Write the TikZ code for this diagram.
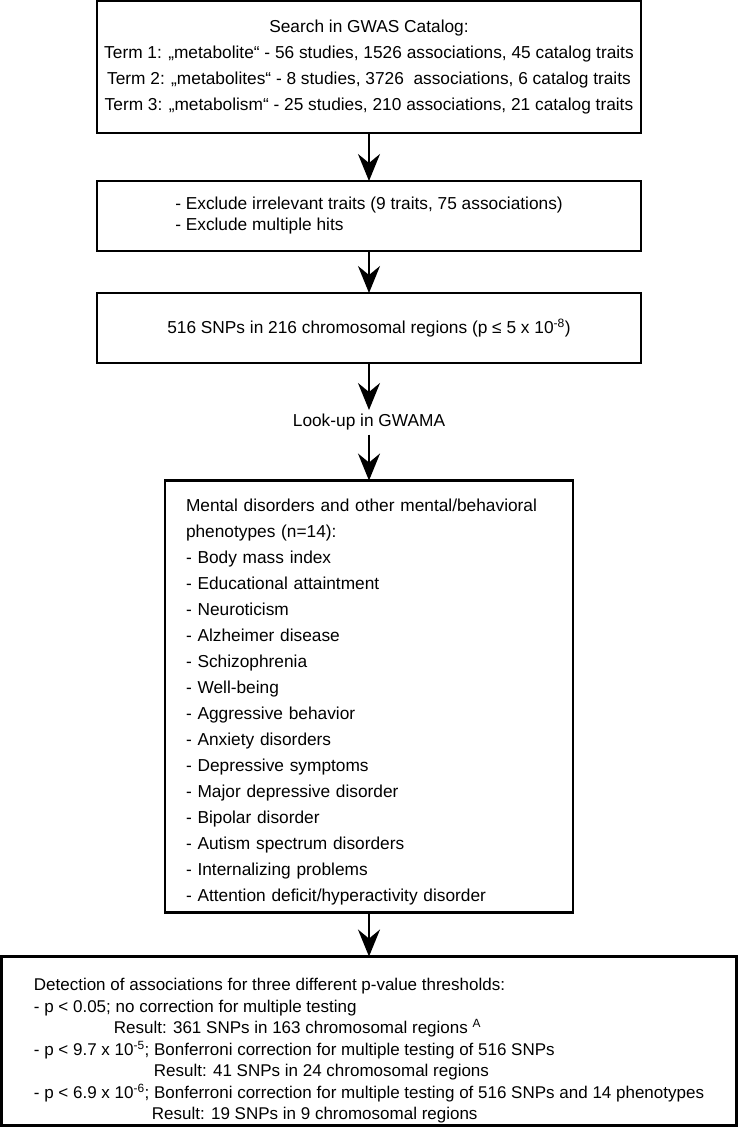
\documentclass[tikz,border=0pt]{standalone}
\usepackage{fontspec}
\setmainfont{Liberation Sans}
\usetikzlibrary{positioning,arrows.meta}

\begin{document}
\begin{tikzpicture}[stage/.style={rectangle, draw, line width=2.8pt, inner sep=0pt, outer sep=0pt, font=\fontsize{17.3}{26}\selectfont},
	flow/.style={line width=2.2pt, -{Stealth[length=27pt, width=22pt, inset=9pt]}}]

\useasboundingbox (0,0) rectangle (741pt,-1128pt);

%--figura relativa alla ricerca nel GWAS Catalog
\node [stage, minimum width=544pt, minimum height=132pt, align=center] (search) at (369pt,-67pt)
	{Search in GWAS Catalog:\\
	 Term 1: „metabolite“ - 56 studies, 1526 associations, 45 catalog traits\\
	 Term 2: „metabolites“ - 8 studies, 3726~ associations, 6 catalog traits\\
	 Term 3: „metabolism“ - 25 studies, 210 associations, 21 catalog traits};

%--figura relativa alle esclusioni
\node [stage, minimum width=544pt, minimum height=70pt, align=left, font=\fontsize{17.3}{21}\selectfont, below=48pt of search] (exclude)
	{- Exclude irrelevant traits (9 traits, 75 associations)\\
	 - Exclude multiple hits};

\draw[flow] (search) -- (exclude);

%--figura relativa agli SNPs
\node [stage, minimum width=544pt, minimum height=70pt, align=center, below=42pt of exclude] (snps)
	{516 SNPs in 216 chromosomal regions (p ≤ 5 x 10\textsuperscript{-8})};

\draw[flow] (exclude) -- (snps);

%--figura relativa al look-up
\node [font=\fontsize{17.3}{20}\selectfont, inner sep=4pt, below=47pt of snps] (lookup) {Look-up in GWAMA};

\draw[flow] (snps) -- (lookup);

%--figura relativa ai fenotipi
\node [stage, minimum width=408pt, minimum height=432pt, text width=366pt, align=left, below=46pt of lookup] (phenos)
	{\rule{0pt}{23pt}Mental disorders and other mental/behavioral\\
	 phenotypes (n=14):\\
	 - Body mass index\\
	 - Educational attaintment\\
	 - Neuroticism\\
	 - Alzheimer disease\\
	 - Schizophrenia\\
	 - Well-being\\
	 - Aggressive behavior\\
	 - Anxiety disorders\\
	 - Depressive symptoms\\
	 - Major depressive disorder\\
	 - Bipolar disorder\\
	 - Autism spectrum disorders\\
	 - Internalizing problems\\
	 - Attention deficit/hyperactivity disorder};

\draw[flow] (lookup) -- (phenos);

%--figura relativa alle soglie del p-value
\node [stage, minimum width=735pt, minimum height=169pt, align=left, font=\fontsize{17}{21.5}\selectfont, below=44pt of phenos] (thresholds)
	{\rule{0pt}{32pt}Detection of associations for three different p-value thresholds:\\
	 - p < 0.05; no correction for multiple testing\\
	 \hspace*{80pt}Result: 361 SNPs in 163 chromosomal regions \textsuperscript{A}\\
	 - p < 9.7 x 10\textsuperscript{-5}; Bonferroni correction for multiple testing of 516 SNPs\\
	 \hspace*{120pt}Result: 41 SNPs in 24 chromosomal regions\\
	 - p < 6.9 x 10\textsuperscript{-6}; Bonferroni correction for multiple testing of 516 SNPs and 14 phenotypes\\
	 \hspace*{118pt}Result: 19 SNPs in 9 chromosomal regions};

\draw[flow] (phenos) -- (thresholds);

\end{tikzpicture}
\end{document}
